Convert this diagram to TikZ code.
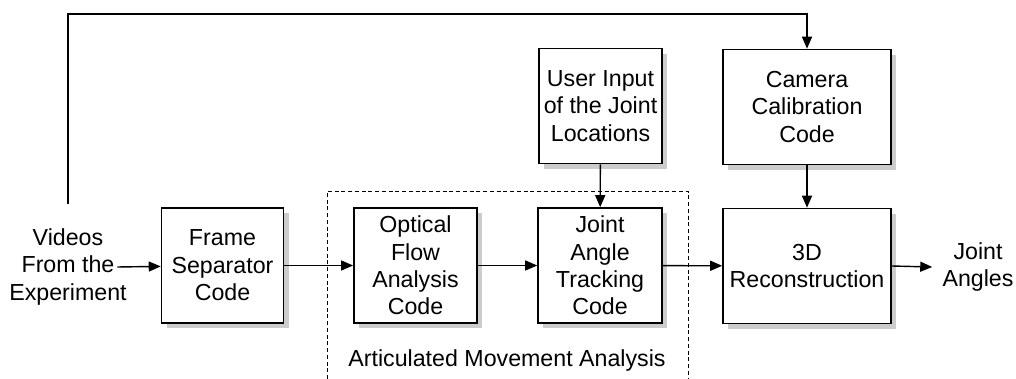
\documentclass[tikz,border=0pt]{standalone}
\usepackage{fontspec}
\setmainfont{Liberation Sans}
\usetikzlibrary{positioning,shadows,arrows.meta}
\tikzset{
  blk/.style={rectangle, minimum height=2.875cm, text centered, align=center, draw=black, line width=1.1pt, fill=white, drop shadow={shadow xshift=0.13cm, shadow yshift=-0.13cm, fill=black!40}},
  lbl/.style={align=center, inner sep=0pt},
  arr/.style={line width=1pt, -{Triangle[length=0.3cm, width=0.25cm]}},
  grp/.style={dashed, dash pattern=on 2.8pt off 2pt, line width=0.7pt},
  node distance=7mm
}

\begin{document}
\begin{tikzpicture}[x=0.025cm, y=-0.025cm, font=\fontsize{16.5}{19.5}\selectfont]
	\useasboundingbox (0,0) rectangle (1016,379);
	% group around the tracking part
	\draw[grp] (327,379) -- (327,191) -- (688,191) -- (688,379);
	\node[lbl] (group) at (507,360) {Articulated Movement Analysis};
	% blocks
	\node[lbl] (videos) at (68,267) {Videos\\From the\\Experiment};
	\node[blk, minimum width=3.05cm] (frame) at (222.5,265.5) {Frame\\Separator\\Code};
	\node[blk, minimum width=3.08cm] (optical) at (415.5,265.5) {Optical\\Flow\\Analysis\\Code};
	\node[blk, minimum width=3.1cm] (joint) at (600,265.5) {Joint\\Angle\\Tracking\\Code};
	\node[blk, minimum width=3.08cm] (user) at (600.5,106) {User Input\\of the Joint\\Locations};
	\node[blk, minimum width=4.2cm] (camera) at (807,107) {Camera\\Calibration\\Code};
	\node[blk, minimum width=4.2cm] (recon) at (807,266) {3D\\Reconstruction};
	\node[lbl] (angles) at (978,267) {Joint\\Angles};
	\coordinate (top) at (68,14);
	% connectors
	\draw[arr] ([xshift=-0.24cm]videos.east) -- (frame);
	\draw[arr] (frame) -- (optical);
	\draw[arr] (optical) -- (joint);
	\draw[arr] (user) -- (joint);
	\draw[arr] (joint) -- (recon);
	\draw[arr] (camera) -- (recon);
	\draw[arr] (recon.east) -- ([xshift=-0.25cm]angles.west);
	\draw[arr] ([yshift=0.6cm]videos.north) |- (top) -| (camera.north);
\end{tikzpicture}
\end{document}
